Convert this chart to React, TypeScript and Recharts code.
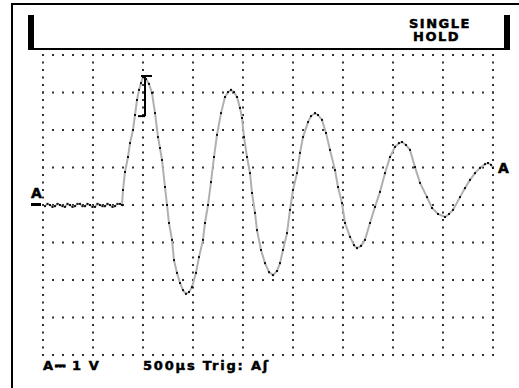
import React from 'react';
import { LineChart, Line, XAxis, YAxis, ReferenceLine } from 'recharts';

// time in microseconds (500 µs / div), channel A in volts (1 V / div)
const timeUs = [
  20, 45, 70, 95, 120, 145, 170, 195, 220, 245, 270, 295, 320, 345, 370, 395, 420, 445,
  470, 495, 520, 545, 570, 595, 620, 645, 670, 695, 720, 745, 770,
  790, 800, 820, 850, 870, 900, 920, 940, 960, 980, 1000, 1030, 1060, 1090, 1120, 1150,
  1170, 1190, 1220, 1240, 1260, 1290, 1310, 1340, 1370, 1400, 1430, 1460, 1490, 1530,
  1560, 1600, 1620, 1650, 1680, 1710, 1740, 1780, 1820, 1850, 1880, 1910, 1940, 1970,
  1990, 2010, 2040, 2070, 2090, 2120, 2140, 2180, 2220, 2260, 2300, 2340, 2370, 2400,
  2440, 2470, 2500, 2540, 2570, 2600, 2650, 2680, 2720, 2750, 2790, 2830, 2870, 2920,
  2950, 2990, 3020, 3070, 3110, 3140, 3180, 3220, 3270, 3320, 3370, 3420, 3470, 3520,
  3560, 3590, 3630, 3670, 3720, 3770, 3840, 3890, 3950, 4020, 4060, 4100, 4170, 4220,
  4270, 4320, 4370, 4420, 4450, 4480, 4500,
];
const voltsA = [
  -0.03, 0.03, 0, -0.05, -0.03, 0.03, 0, -0.03, -0.05, 0.03, 0, -0.05, -0.03, 0.03, 0.03, -0.03,
  -0.03, 0.03, 0, -0.05, -0.05, 0.03, 0, -0.03, -0.03, 0.03, 0, -0.05, -0.03, 0.03, 0.03,
  0, 0.4, 0.88, 1.28, 1.65, 2.0, 2.4, 2.8, 3.07, 3.25, 3.41, 3.36, 3.23, 2.99, 2.45, 1.81,
  1.52, 1.2, 0.48, 0, -0.48, -0.93, -1.47, -1.81, -2.08, -2.27, -2.37, -2.32, -2.19, -1.81,
  -1.39, -0.93, -0.48, 0, 0.61, 1.28, 1.87, 2.45, 2.88, 3.01, 3.07, 3.01, 2.88, 2.59,
  2.32, 1.81, 1.28, 0.85, 0.32, -0.21, -0.67, -1.2, -1.55, -1.79, -1.87, -1.76, -1.55, -1.2,
  -0.75, -0.13, 0.4, 0.85, 1.39, 1.81, 2.21, 2.37, 2.45, 2.4, 2.27, 1.92, 1.47, 0.93,
  0.48, 0.05, -0.48, -0.85, -1.07, -1.15, -1.09, -0.93, -0.48, -0.05, 0.35, 0.85, 1.28, 1.55,
  1.65, 1.68, 1.6, 1.47, 1.01, 0.59, 0.21, -0.08, -0.24, -0.32, -0.24, -0.13, 0.21, 0.45,
  0.67, 0.85, 0.99, 1.09, 1.12, 1.07, 0.99,
];

const gridTimes = [0, 500, 1000, 1500, 2000, 2500, 3000, 3500, 4000, 4500];
const gridVolts = [-4, -3, -2, -1, 0, 1, 2, 3, 4];

// peak cursor drawn on the first crest
const cursorSegments = [
  [{ x: 1020, y: 3.42 }, { x: 1020, y: 2.37 }],
  [{ x: 950, y: 2.37 }, { x: 1020, y: 2.37 }],
  [{ x: 980, y: 3.44 }, { x: 1090, y: 3.44 }],
];

const data = timeUs.map((t, i) => ({ t, v: voltsA[i] }));

const font = '"DejaVu Sans", sans-serif';

const Box = ({ s }: { s: React.CSSProperties }) => (
  <div style={{ position: 'absolute', background: '#000', ...s }} />
);

const Txt = ({ s, children }: { s: React.CSSProperties; children: React.ReactNode }) => (
  <div
    style={{
      position: 'absolute',
      fontFamily: font,
      fontWeight: 700,
      color: '#000',
      whiteSpace: 'pre',
      lineHeight: 1,
      WebkitTextStroke: '0.5px #000',
      ...s,
    }}
  >
    {children}
  </div>
);

const SampleDot = (props: any) => {
  const { cx, cy, index } = props;
  return <rect key={index} x={cx - 1} y={cy - 1} width={2} height={2} fill="#111" />;
};

export default function App() {
  return (
    <div style={{ position: 'relative', width: 519, height: 388, background: '#fff', overflow: 'hidden' }}>
      <style>{'body{margin:0}'}</style>
      <LineChart width={519} height={388} data={data} margin={{ top: 55, right: 26, bottom: 33, left: 43 }}>
        <XAxis dataKey="t" type="number" domain={[0, 4500]} hide />
        <YAxis type="number" domain={[-4, 4]} hide />
        {gridTimes.map((t) => (
          <ReferenceLine key={'x' + t} x={t} stroke="#333" strokeWidth={2} strokeDasharray="0.01 7.49" strokeLinecap="square" />
        ))}
        {gridVolts.map((v) => (
          <ReferenceLine key={'y' + v} y={v} stroke="#333" strokeWidth={2} strokeDasharray="0.01 9.99" strokeLinecap="square" />
        ))}
        <Line
          dataKey="v"
          type="linear"
          stroke="#b0b0b0"
          strokeWidth={2}
          dot={SampleDot}
          activeDot={false}
          isAnimationActive={false}
        />
        {cursorSegments.map((seg, i) => (
          <ReferenceLine key={'c' + i} segment={seg} stroke="#000" strokeWidth={2} />
        ))}
      </LineChart>

      {/* screen frame */}
      <Box s={{ left: 11, top: 3, width: 508, height: 2 }} />
      <Box s={{ left: 11, top: 3, width: 2, height: 385 }} />
      {/* status bar */}
      <Box s={{ left: 28, top: 15, width: 6, height: 35 }} />
      <Box s={{ left: 504, top: 15, width: 6, height: 35 }} />
      <Box s={{ left: 28, top: 48, width: 482, height: 2 }} />
      <Txt s={{ left: 409, top: 16.5, fontSize: 13, letterSpacing: 1.5 }}>SINGLE</Txt>
      <Txt s={{ left: 413, top: 30, fontSize: 13, letterSpacing: 1.5 }}>HOLD</Txt>

      {/* channel A ground marker and trace label */}
      <Txt s={{ left: 31, top: 186, fontSize: 14 }}>A</Txt>
      <Box s={{ left: 31, top: 203, width: 10, height: 3 }} />
      <Txt s={{ left: 498, top: 161, fontSize: 14 }}>A</Txt>

      {/* readout */}
      <Txt s={{ left: 43, top: 359, fontSize: 13, letterSpacing: 1.5 }}>{'A\u2393 1 V'}</Txt>
      <Txt s={{ left: 143, top: 359, fontSize: 13, letterSpacing: 1.8 }}>{'500\u00b5s Trig: A\u0283'}</Txt>
    </div>
  );
}
